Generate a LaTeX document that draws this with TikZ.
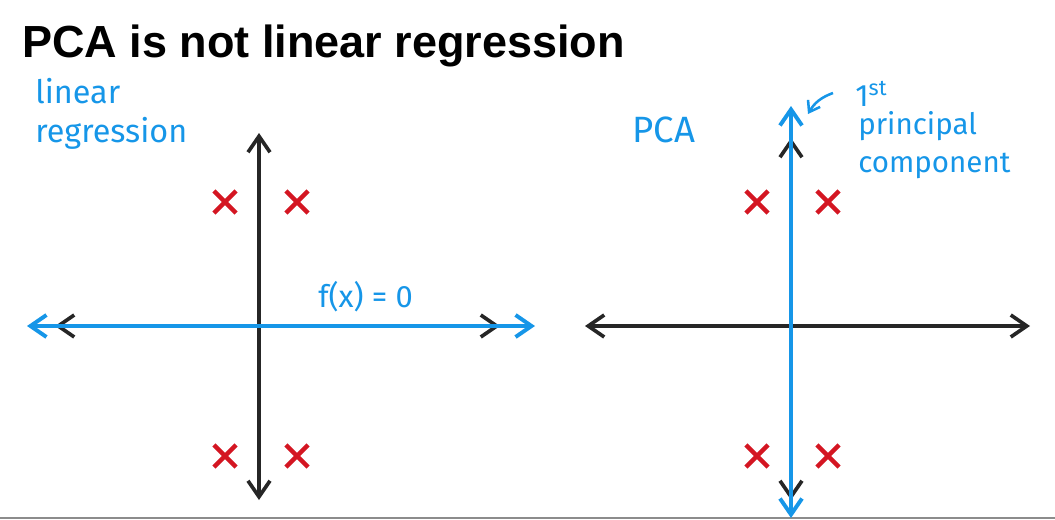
\documentclass[tikz,border=0pt]{standalone}
\usepackage{fontspec}
\setmainfont{Liberation Sans}
\newfontfamily\handfont{Fira Sans}
\usetikzlibrary{arrows.meta, shapes.misc}

\definecolor{penblue}{RGB}{22,150,232}
\definecolor{penred}{RGB}{212,22,34}

\begin{document}
\begin{tikzpicture}[x=0.025cm, y=-0.025cm,
							axis/.style={line width=2.6pt, black!85, {Straight Barb[length=4mm,width=5.5mm]}-{Straight Barb[length=4mm,width=5.5mm]}},
							fitline/.style={line width=2.8pt, penblue, {Straight Barb[length=4mm,width=5.5mm]}-{Straight Barb[length=4mm,width=5.5mm]}},
							datapt/.style={cross out, draw=penred, line width=3.2pt, minimum size=4.4mm, inner sep=0pt},
							note/.style={penblue, font=\handfont\fontsize{22}{23}\selectfont, align=left, inner sep=0pt}
							]
							\useasboundingbox (0,0) rectangle (1055,520);
							
							% Título
							\node[anchor=base west, inner sep=0pt, font=\fontsize{32}{38}\selectfont\bfseries] (title) at (22,57) {PCA is not linear regression};
							
							% Línea inferior
							\coordinate (gl) at (0,518);
							\coordinate (gr) at (1055,518);
							\draw[line width=2pt, black!45] (gl) -- (gr);
							
							% Regresión lineal (izquierda)
							\coordinate (lt) at (259,133);
							\coordinate (lb) at (259,500);
							\coordinate (ll) at (55,326);
							\coordinate (lr) at (500,326);
							\coordinate (bl) at (27,326);
							\coordinate (br) at (535,326);
							\draw[axis] (lb) -- (lt);
							\draw[axis] (ll) -- (lr);
							\draw[fitline] (bl) -- (br);
							
							\node[datapt] (a1) at (225,202) {};
							\node[datapt] (a2) at (297,202) {};
							\node[datapt] (a3) at (225,456) {};
							\node[datapt] (a4) at (297,456) {};
							
							\node[note, anchor=west, font=\handfont\fontsize{23}{28}\selectfont] (linreg) at (35,114) {linear\\regression};
							\node[note, anchor=west] (fx) at (318,297) {f(x) = 0};
							
							% PCA (derecha)
							\coordinate (rl) at (585,326);
							\coordinate (rr) at (1030,326);
							\coordinate (rt) at (791,138);
							\coordinate (rb) at (791,500);
							\coordinate (pt) at (791,106);
							\coordinate (pb) at (791,518);
							\draw[axis] (rl) -- (rr);
							\draw[axis] (rb) -- (rt);
							\draw[fitline] (pb) -- (pt);
							
							\node[datapt] (b1) at (757,202) {};
							\node[datapt] (b2) at (828,202) {};
							\node[datapt] (b3) at (757,456) {};
							\node[datapt] (b4) at (828,456) {};
							
							\node[note, anchor=west, font=\handfont\fontsize{26}{28}\selectfont] (pca) at (632,130) {PCA};
							\node[note, anchor=west] (first) at (855,94) {1\textsuperscript{st}};
							\node[note, anchor=north west, font=\handfont\fontsize{21}{27}\selectfont] (pcname) at (858,111) {principal\\component};
							
							% Flecha hacia el eje
							\coordinate (tail) at (833,93);
							\coordinate (head) at (808,114);
							\draw[->, line width=1.8pt, penblue, >={Straight Barb[length=2.5mm,width=3.5mm]}] (tail) to[bend right=20] (head);
						\end{tikzpicture}
\end{document}
